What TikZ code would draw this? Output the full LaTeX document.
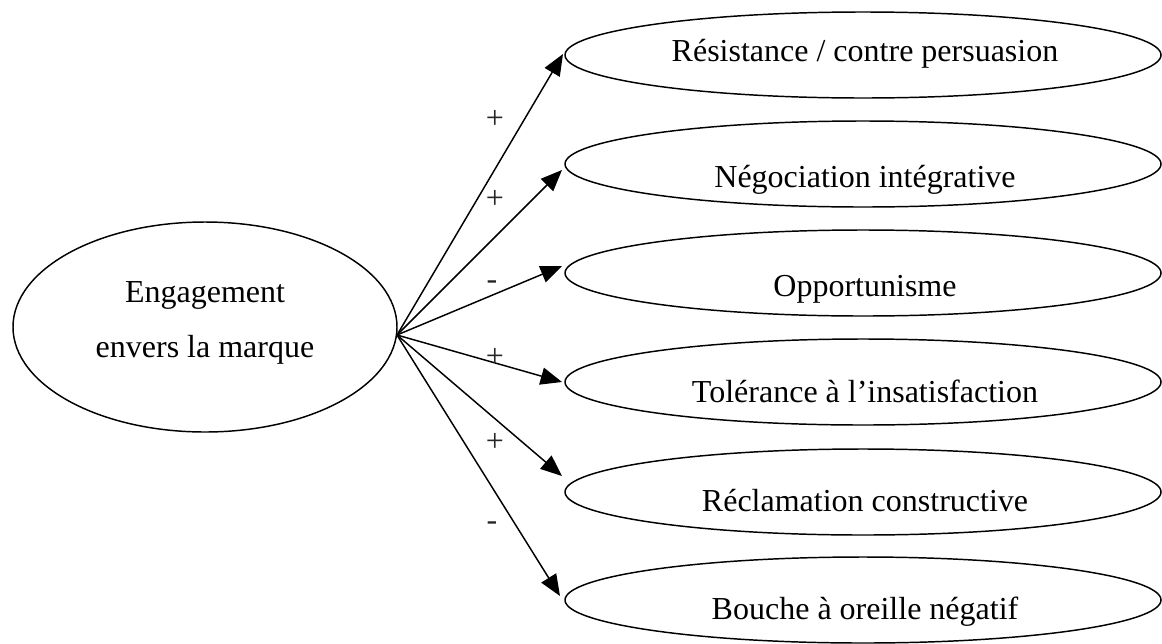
\documentclass[tikz,border=0pt]{standalone}
\usepackage{fontspec}
\setmainfont{Liberation Serif}
\usetikzlibrary{shapes.geometric,arrows.meta}
\begin{document}
\begin{tikzpicture}[x=0.75pt,y=-0.75pt,
  ell/.style={draw=black,line width=1.1pt,ellipse,inner sep=0pt},
  bigell/.style={ell,minimum width=288pt,minimum height=157.5pt},
  smallell/.style={ell,minimum width=447pt,minimum height=64.5pt},
  txt/.style={anchor=base,inner sep=0pt,font=\fontsize{24}{28}\selectfont},
  sign/.style={inner sep=0pt,text=black!85,font=\fontsize{24}{28}\selectfont},
  arr/.style={line width=1.1pt,-{Triangle[length=16pt,width=13pt]}}]
\useasboundingbox (0,0) rectangle (1162,643);
% left ellipse
\node[bigell] (src) at (205,327) {};
\node[txt] (s1) at (205,302) {Engagement};
\node[txt] (s2) at (205,357) {envers la marque};
\coordinate (o) at (397,335);
% right ellipses
\node[smallell] (e1) at (863,55) {};
\node[smallell] (e2) at (863,164) {};
\node[smallell] (e3) at (863,273) {};
\node[smallell] (e4) at (863,382) {};
\node[smallell] (e5) at (863,492) {};
\node[smallell] (e6) at (863,600) {};
\node[txt] (t1) at (865,61) {Résistance / contre persuasion};
\node[txt] (t2) at (865,187) {Négociation intégrative};
\node[txt] (t3) at (865,296) {Opportunisme};
\node[txt] (t4) at (865,402) {Tolérance à l’insatisfaction};
\node[txt] (t5) at (865,511) {Réclamation constructive};
\node[txt] (t6) at (865,619) {Bouche à oreille négatif};
% arrow ends
\coordinate (a1) at (563,54);
\coordinate (a2) at (562,170);
\coordinate (a3) at (562,266);
\coordinate (a4) at (562,382);
\coordinate (a5) at (562,476);
\coordinate (a6) at (560,596);
\foreach \i in {1,...,6} \draw[arr] (o) -- (a\i);
% signs
\node[sign] (p1) at (495,119) {+};
\node[sign] (p2) at (495,199) {+};
\node[sign] (p3) at (492,285) {-};
\node[sign] (p4) at (495,357) {+};
\node[sign] (p5) at (495,442) {+};
\node[sign] (p6) at (492,526) {-};
\end{tikzpicture}
\end{document}
